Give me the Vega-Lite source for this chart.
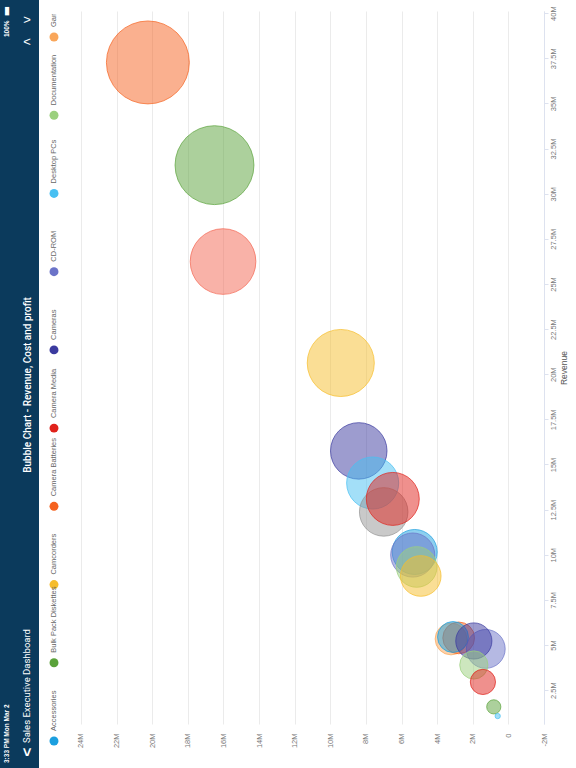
{
  "$schema": "https://vega.github.io/schema/vega-lite/v6.json",
  "padding": 0,
  "background": "white",
  "spacing": 0,
  "bounds": "full",
  "config": {
    "view": {"stroke": null},
    "axis": {"labelFont": "Liberation Sans", "titleFont": "Liberation Sans"}
  },
  "datasets": {
    "sales": [
      {"Category": "Camera Batteries", "Cost": 20240000, "Revenue": 37270000, "Profit": 17100000},
      {"Category": "Bulk Pack Diskettes", "Cost": 16500000, "Revenue": 31580000, "Profit": 15470000},
      {"Category": "Home Audio", "Cost": 16020000, "Revenue": 26240000, "Profit": 10710000},
      {"Category": "Camcorders", "Cost": 9410000, "Revenue": 20620000, "Profit": 11180000},
      {"Category": "Cameras", "Cost": 8400000, "Revenue": 15750000, "Profit": 7930000},
      {"Category": "Desktop PCs", "Cost": 7620000, "Revenue": 13970000, "Profit": 6740000},
      {"Category": "Laptops", "Cost": 7000000, "Revenue": 12370000, "Profit": 5850000},
      {"Category": "Camera Media", "Cost": 6490000, "Revenue": 13090000, "Profit": 6970000},
      {"Category": "Accessories", "Cost": 5260000, "Revenue": 10150000, "Profit": 5030000},
      {"Category": "CD-ROM", "Cost": 5370000, "Revenue": 9980000, "Profit": 4840000},
      {"Category": "Documentation", "Cost": 5150000, "Revenue": 9320000, "Profit": 4100000},
      {"Category": "Camcorders", "Cost": 4920000, "Revenue": 8820000, "Profit": 4100000},
      {"Category": "Games", "Cost": 3220000, "Revenue": 5330000, "Profit": 2510000},
      {"Category": "Camera Batteries", "Cost": 2790000, "Revenue": 5390000, "Profit": 2510000},
      {"Category": "Accessories", "Cost": 3110000, "Revenue": 5440000, "Profit": 2370000},
      {"Category": "CD-ROM", "Cost": 1270000, "Revenue": 4780000, "Profit": 3750000},
      {"Category": "Cameras", "Cost": 1940000, "Revenue": 5220000, "Profit": 3250000},
      {"Category": "Documentation", "Cost": 1940000, "Revenue": 3890000, "Profit": 1980000},
      {"Category": "Camera Media", "Cost": 1430000, "Revenue": 2950000, "Profit": 1580000},
      {"Category": "Bulk Pack Diskettes", "Cost": 820000, "Revenue": 1570000, "Profit": 500000},
      {"Category": "Desktop PCs", "Cost": 600000, "Revenue": 1060000, "Profit": 70000}
    ],
    "legend": [
      {"Category": "Accessories"},
      {"Category": "Bulk Pack Diskettes"},
      {"Category": "Camcorders"},
      {"Category": "Camera Batteries"},
      {"Category": "Camera Media"},
      {"Category": "Cameras"},
      {"Category": "CD-ROM"},
      {"Category": "Desktop PCs"},
      {"Category": "Documentation"},
      {"Category": "Games"}
    ]
  },
  "hconcat": [
    {
      "width": 39,
      "height": 768,
      "view": {"fill": "#0b3a5c", "stroke": null},
      "layer": [
        {
          "data": {"values": [{"t": "Bubble Chart - Revenue, Cost and profit"}]},
          "mark": {"type": "text", "angle": 270, "align": "center", "baseline": "middle", "dx": -1, "dy": 8.5, "color": "white", "font": "Roboto", "fontSize": 10, "fontWeight": 500},
          "encoding": {"text": {"field": "t"}}
        },
        {
          "data": {"values": [{"t": "3:33 PM   Mon Mar 2"}]},
          "mark": {"type": "text", "angle": 270, "align": "left", "baseline": "middle", "dx": -379, "dy": -12.5, "color": "white", "font": "Liberation Sans", "fontSize": 6.5, "fontWeight": "bold"},
          "encoding": {"text": {"field": "t"}}
        },
        {
          "data": {"values": [{"t": "<"}]},
          "mark": {"type": "text", "angle": 270, "align": "center", "baseline": "middle", "dx": -368, "dy": 7.5, "color": "white", "font": "Liberation Sans", "fontSize": 15, "fontWeight": "bold"},
          "encoding": {"text": {"field": "t"}}
        },
        {
          "data": {"values": [{"t": "Sales Executive Dashboard"}]},
          "mark": {"type": "text", "angle": 270, "align": "left", "baseline": "middle", "dx": -359, "dy": 7.5, "color": "white", "font": "Roboto", "fontSize": 9.5},
          "encoding": {"text": {"field": "t"}}
        },
        {
          "data": {"values": [{"t": "100%"}]},
          "mark": {"type": "text", "angle": 270, "align": "left", "baseline": "middle", "dx": 347, "dy": -12.5, "color": "white", "font": "Liberation Sans", "fontSize": 6.5, "fontWeight": "bold"},
          "encoding": {"text": {"field": "t"}}
        },
        {
          "data": {"values": [{"t": "▮"}]},
          "mark": {"type": "text", "align": "center", "baseline": "middle", "dx": -12.5, "dy": -373, "color": "white", "font": "DejaVu Sans", "fontSize": 11},
          "encoding": {"text": {"field": "t"}}
        },
        {
          "data": {"values": [{"t": "<"}]},
          "mark": {"type": "text", "align": "center", "baseline": "middle", "dx": 7.5, "dy": -342, "color": "white", "font": "Liberation Sans", "fontSize": 13},
          "encoding": {"text": {"field": "t"}}
        },
        {
          "data": {"values": [{"t": ">"}]},
          "mark": {"type": "text", "align": "center", "baseline": "middle", "dx": 7.5, "dy": -364, "color": "white", "font": "Liberation Sans", "fontSize": 13},
          "encoding": {"text": {"field": "t"}}
        }
      ]
    },
    {
      "spacing": 0,
      "bounds": "full",
      "vconcat": [
        {
          "width": 37,
          "height": 14,
          "data": {"values": [{"t": ""}]},
          "mark": {"type": "rect", "opacity": 0},
          "encoding": {}
        },
        {
          "width": 37,
          "height": 754,
          "data": {"name": "legend"},
          "layer": [
            {
              "mark": {"type": "circle", "size": 80, "opacity": 1, "xOffset": -3.5},
              "encoding": {
                "y": {"field": "Category", "type": "nominal", "scale": {"type": "point", "padding": 0, "domain": ["Accessories", "Bulk Pack Diskettes", "Camcorders", "Camera Batteries", "Camera Media", "Cameras", "CD-ROM", "Desktop PCs", "Documentation", "Games"], "range": [727, 23]}, "axis": null},
                "color": {"field": "Category", "type": "nominal", "scale": {"domain": ["Accessories", "Bulk Pack Diskettes", "Camcorders", "Camera Batteries", "Camera Media", "Cameras", "CD-ROM", "Desktop PCs", "Documentation", "Games", "Home Audio", "Laptops"], "range": ["#1b9fdf", "#5aa23a", "#f6bd2b", "#f5621f", "#e0221b", "#3b3a9f", "#6b73c8", "#48c0f2", "#9bd07e", "#f9a65a", "#f36551", "#939393"]}, "legend": null}
              }
            },
            {
              "mark": {"type": "text", "angle": 270, "align": "left", "baseline": "middle", "dx": 10, "xOffset": -3.5, "fontSize": 7.5, "color": "#666666", "font": "Liberation Sans", "clip": true},
              "encoding": {
                "y": {"field": "Category", "type": "nominal", "scale": {"type": "point", "padding": 0, "domain": ["Accessories", "Bulk Pack Diskettes", "Camcorders", "Camera Batteries", "Camera Media", "Cameras", "CD-ROM", "Desktop PCs", "Documentation", "Games"], "range": [727, 23]}, "axis": null},
                "text": {"field": "Category"}
              }
            }
          ]
        }
      ]
    },
    {
      "spacing": 0,
      "bounds": "full",
      "vconcat": [
        {
          "width": 467,
          "height": 5,
          "data": {"values": [{"t": ""}]},
          "mark": {"type": "rect", "opacity": 0},
          "encoding": {}
        },
        {
          "width": 467,
          "height": 713,
          "data": {"name": "sales"},
          "mark": {"type": "circle", "opacity": 1, "fillOpacity": 0.5, "strokeOpacity": 0.7, "strokeWidth": 1},
          "encoding": {
            "x": {
              "field": "Cost", "type": "quantitative",
              "scale": {"domain": [-2000000, 24220000], "reverse": true, "nice": false, "zero": false},
              "axis": {
                "orient": "bottom", "title": null,
                "values": [-2000000, 0, 2000000, 4000000, 6000000, 8000000, 10000000, 12000000, 14000000, 16000000, 18000000, 20000000, 22000000, 24000000],
                "labelExpr": "replace(format(datum.value, '~s'), '−', '-')",
                "labelAngle": 270, "labelAlign": "right", "labelBaseline": "middle", "labelPadding": 9,
                "labelFontSize": 7.5, "labelColor": "#777777",
                "domain": false, "ticks": false,
                "grid": true, "gridColor": "#ebebeb", "gridWidth": 1
              }
            },
            "y": {
              "field": "Revenue", "type": "quantitative",
              "scale": {"domain": [620000, 40120000], "nice": false, "zero": false},
              "axis": {
                "orient": "right", "title": "Revenue",
                "values": [2500000, 5000000, 7500000, 10000000, 12500000, 15000000, 17500000, 20000000, 22500000, 25000000, 27500000, 30000000, 32500000, 35000000, 37500000, 40000000],
                "labelExpr": "format(datum.value, '~s')",
                "labelAngle": 270, "labelAlign": "center", "labelBaseline": "top", "labelPadding": 1,
                "labelFontSize": 7.5, "labelColor": "#777777",
                "tickSize": 4, "tickColor": "#dde2ef", "domainColor": "#dde2ef",
                "grid": false,
                "titleAngle": 270, "titleBaseline": "top", "titlePadding": 3,
                "titleFontSize": 8.5, "titleFontWeight": "normal", "titleColor": "#555555"
              }
            },
            "size": {"field": "Profit", "type": "quantitative", "scale": {"domain": [0, 17100000], "range": [0, 6881]}, "legend": null},
            "color": {"field": "Category", "type": "nominal", "scale": {"domain": ["Accessories", "Bulk Pack Diskettes", "Camcorders", "Camera Batteries", "Camera Media", "Cameras", "CD-ROM", "Desktop PCs", "Documentation", "Games", "Home Audio", "Laptops"], "range": ["#1b9fdf", "#5aa23a", "#f6bd2b", "#f5621f", "#e0221b", "#3b3a9f", "#6b73c8", "#48c0f2", "#9bd07e", "#f9a65a", "#f36551", "#939393"]}, "legend": null},
            "stroke": {"field": "Category", "type": "nominal", "scale": {"domain": ["Accessories", "Bulk Pack Diskettes", "Camcorders", "Camera Batteries", "Camera Media", "Cameras", "CD-ROM", "Desktop PCs", "Documentation", "Games", "Home Audio", "Laptops"], "range": ["#1b9fdf", "#5aa23a", "#f6bd2b", "#f5621f", "#e0221b", "#3b3a9f", "#6b73c8", "#48c0f2", "#9bd07e", "#f9a65a", "#f36551", "#939393"]}, "legend": null}
          }
        }
      ]
    }
  ]
}
